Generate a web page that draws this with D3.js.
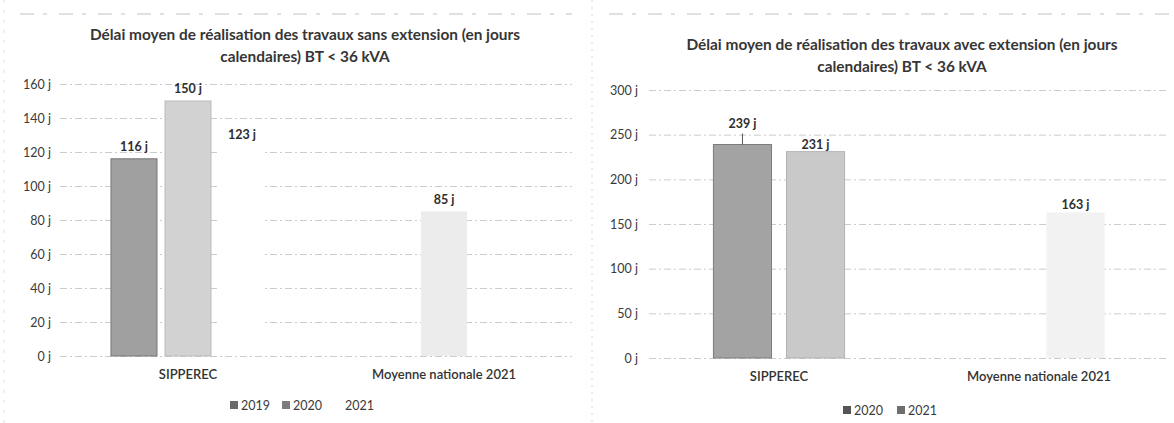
<!DOCTYPE html>
<html>
<head>
<meta charset="utf-8">
<script src="https://cdn.jsdelivr.net/npm/d3@7"></script>
<style>
  body { margin: 0; background: #fff; }
  text { font-family: Lato, "Open Sans", sans-serif; fill: #3a3a3a; }
</style>
</head>
<body>
<svg width="1174" height="423"></svg>
<script>
// categories shared by both charts
let categories = ["SIPPEREC", "Moyenne nationale 2021"];

// left chart: travaux sans extension
let titleLeft = ["Délai moyen de réalisation des travaux sans extension (en jours", "calendaires) BT < 36 kVA"];
let yearsLeft = ["2019", "2020", "2021"];
let sipperecLeft = [116, 150, 123];
let nationalLeft = [null, 85, null];
let ticksLeft = [0, 20, 40, 60, 80, 100, 120, 140, 160];

// right chart: travaux avec extension
let titleRight = ["Délai moyen de réalisation des travaux avec extension (en jours", "calendaires) BT < 36 kVA"];
let yearsRight = ["2020", "2021"];
let sipperecRight = [239, 231];
let nationalRight = [null, 163];
let ticksRight = [0, 50, 100, 150, 200, 250, 300];

let svg = d3.select("svg");
svg.append("rect").attr("width", 1174).attr("height", 423).attr("fill", "#fff");

// faint scan edges between the two panels
svg.append("line")
	.attr("x1", 592).attr("x2", 592).attr("y1", 0).attr("y2", 423)
	.attr("stroke", "#d8d8d8").attr("stroke-dasharray", "2,5");
svg.append("line")
	.attr("x1", 4).attr("x2", 4).attr("y1", 0).attr("y2", 423)
	.attr("stroke", "#e2e2e2").attr("stroke-dasharray", "3,7");

function drawPanel(p) {
	let rows = categories.map((c, i) => ({
		name: c,
		values: p.years.map((yr, j) => ({year: yr, value: (i == 0 ? p.sipperec : p.national)[j], national: i == 1, lift: i == 0 && j == 0 ? p.liftFirst : 0}))
	}));

	let x0 = d3.scaleBand()
		.domain(categories)
		.range(p.xRange)
		.paddingInner(p.outerPad)
		.paddingOuter(p.outerPad / 2);

	let x1 = d3.scaleBand()
		.domain(p.years)
		.range([0, x0.bandwidth()])
		.paddingInner(p.innerPad)
		.paddingOuter(p.innerPad / 2);

	let y = d3.scaleLinear()
		.domain([0, d3.max(p.ticks)])
		.range(p.yRange);

	let color = d3.scaleOrdinal().domain(p.years).range(p.colors);

	let g = svg.append("g");

	// faint header remnants of the scanned page
	g.append("line")
		.attr("x1", p.xRange[0] - 40).attr("x2", p.xRange[1])
		.attr("y1", 14).attr("y2", 14)
		.attr("stroke", "#d6d6d6").attr("stroke-width", 1.5)
		.attr("stroke-dasharray", "14,9,4,12");

	// title
	g.append("text")
		.attr("text-anchor", "middle")
		.attr("font-size", 15.4)
		.attr("font-weight", 700)
		.style("fill", "#363636")
		.selectAll("tspan").data(p.title).enter().append("tspan")
		.attr("x", p.titleX)
		.attr("y", (d, i) => p.titleY + i * 22)
		.text(d => d);

	// axis + gridlines
	let w = p.xRange[1] - p.xRange[0];
	g.append("g")
		.attr("transform", `translate(${p.xRange[0]},0)`)
		.call(d3.axisLeft(y).tickValues(p.ticks).tickFormat(d => d + " j").tickSize(-w).tickPadding(p.tickPad))
		.call(a => a.select(".domain").remove())
		.call(a => a.selectAll(".tick line").attr("stroke", "#cccccc").attr("stroke-dasharray", "7,3,2,3"))
		.call(a => a.selectAll(".tick text").attr("font-size", 12.5).attr("font-family", "Lato").style("fill", "#3a3a3a"));

	// bars
	let groups = g.append("g")
		.selectAll("g").data(rows).enter().append("g")
		.attr("transform", d => `translate(${x0(d.name)},0)`);

	let bars = groups.selectAll("g").data(d => d.values.filter(v => v.value != null)).enter().append("g");

	bars.append("rect")
		.attr("x", d => x1(d.year))
		.attr("y", d => y(d.value))
		.attr("width", x1.bandwidth())
		.attr("height", d => y(0) - y(d.value))
		.attr("fill", d => d.national ? p.nationalColor : color(d.year))
		.attr("stroke", d => d.national ? "none" : p.strokes[p.years.indexOf(d.year)])
		.attr("stroke-width", 1);

	// leader line for a label that was moved up
	bars.filter(d => d.lift > 0).append("line")
		.attr("x1", d => x1(d.year) + x1.bandwidth() / 2)
		.attr("x2", d => x1(d.year) + x1.bandwidth() / 2)
		.attr("y1", d => y(d.value) - p.labelGap - d.lift + 5)
		.attr("y2", d => y(d.value))
		.attr("stroke", "#555");

	bars.append("text")
		.attr("x", d => x1(d.year) + x1.bandwidth() / 2)
		.attr("y", d => y(d.value) - p.labelGap - d.lift)
		.attr("text-anchor", "middle")
		.attr("font-size", 12.5)
		.attr("font-weight", 700)
		.style("fill", "#2e2e2e")
		.text(d => d.value + " j");

	// category labels
	g.append("g")
		.selectAll("text").data(categories).enter().append("text")
		.attr("x", d => x0(d) + x0.bandwidth() / 2)
		.attr("y", p.catY)
		.attr("text-anchor", "middle")
		.attr("font-size", 13)
		.attr("font-weight", 600)
		.style("fill", "#333")
		.text(d => d);

	// legend
	let leg = g.append("g")
		.selectAll("g").data(p.years).enter().append("g")
		.attr("transform", (d, i) => `translate(${p.legendX + i * p.legendStep},${p.legendY})`);
	leg.append("rect")
		.attr("x", 0).attr("y", -4)
		.attr("width", 8).attr("height", 8)
		.attr("fill", (d, i) => p.swatches[i]);
	leg.append("text")
		.attr("x", 11).attr("y", 4.5)
		.attr("font-size", 12.5)
		.text(d => d);
}

drawPanel({
	title: titleLeft, years: yearsLeft, sipperec: sipperecLeft, national: nationalLeft, ticks: ticksLeft,
	xRange: [60, 572], yRange: [356, 84], outerPad: 0.367, innerPad: 0.148,
	colors: ["#a0a0a0", "#d2d2d2", "#ffffff"], strokes: ["#767676", "#bbbbbb", "none"],
	swatches: ["#6a6a6a", "#7c7c7c", "#ffffff"], nationalColor: "#ececec",
	titleX: 305, titleY: 40, tickPad: 9, labelGap: 8, catY: 379, liftFirst: 0,
	legendX: 230, legendY: 405, legendStep: 52
});

drawPanel({
	title: titleRight, years: yearsRight, sipperec: sipperecRight, national: nationalRight, ticks: ticksRight,
	xRange: [649, 1169], yRange: [358, 90], outerPad: 0.438, innerPad: 0.205,
	colors: ["#a3a3a3", "#c9c9c9"], strokes: ["#7c7c7c", "#b2b2b2"],
	swatches: ["#555555", "#6e6e6e"], nationalColor: "#f2f2f2",
	titleX: 902, titleY: 50, tickPad: 11, labelGap: 3, catY: 381, liftFirst: 13,
	legendX: 843, legendY: 410, legendStep: 54
});
</script>
</body>
</html>
